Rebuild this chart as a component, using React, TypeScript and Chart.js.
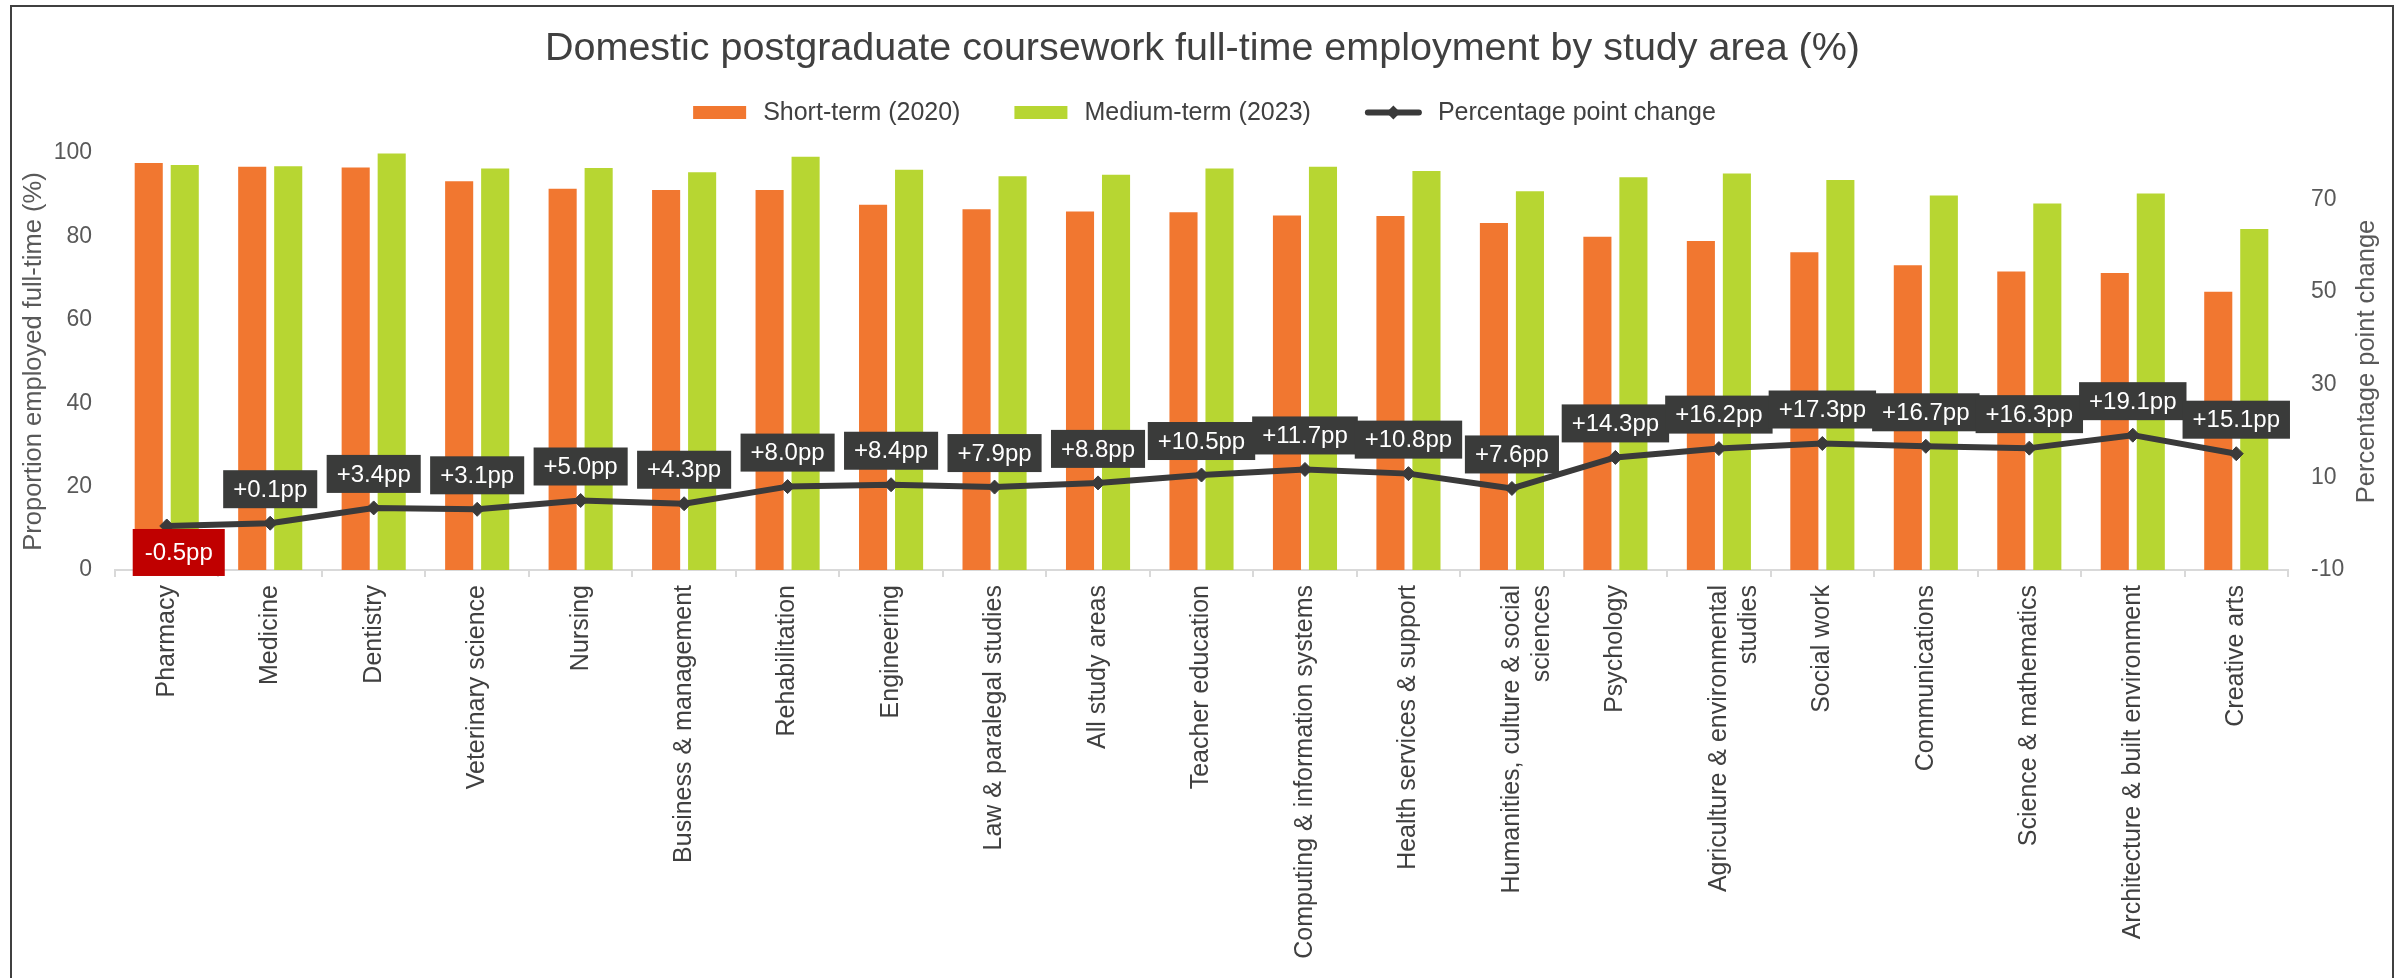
import React, { useEffect, useRef } from 'react';
import { Chart, registerables } from 'chart.js';

Chart.register(...registerables);

const FONT = "'Liberation Sans', Arial, sans-serif";

const TITLE = 'Domestic postgraduate coursework full-time employment by study area (%)';
const LEFT_TITLE = 'Proportion employed full-time (%)';
const RIGHT_TITLE = 'Percentage point change';

const categories: (string | string[])[] = [
  'Pharmacy',
  'Medicine',
  'Dentistry',
  'Veterinary science',
  'Nursing',
  'Business & management',
  'Rehabilitation',
  'Engineering',
  'Law & paralegal studies',
  'All study areas',
  'Teacher education',
  'Computing & information systems',
  'Health services & support',
  ['Humanities, culture & social', 'sciences'],
  'Psychology',
  ['Agriculture & environmental', 'studies'],
  'Social work',
  'Communications',
  'Science & mathematics',
  'Architecture & built environment',
  'Creative arts',
];

const shortTerm2020 = [97.6, 96.7, 96.5, 93.2, 91.4, 91.1, 91.1, 87.6, 86.5, 86.0, 85.8, 85.0, 84.9, 83.2, 79.9, 78.9, 76.2, 73.1, 71.6, 71.2, 66.7];
const mediumTerm2023 = [97.1, 96.8, 99.9, 96.3, 96.4, 95.4, 99.1, 96.0, 94.4, 94.8, 96.3, 96.7, 95.7, 90.8, 94.2, 95.1, 93.5, 89.8, 87.9, 90.3, 81.8];
const ppChange = [-0.5, 0.1, 3.4, 3.1, 5.0, 4.3, 8.0, 8.4, 7.9, 8.8, 10.5, 11.7, 10.8, 7.6, 14.3, 16.2, 17.3, 16.7, 16.3, 19.1, 15.1];

const leftTicks = [0, 20, 40, 60, 80, 100];
const rightTicks = [-10, 10, 30, 50, 70];

const ORANGE = '#f17730';
const GREEN = '#b7d632';
const DARK = '#3a3a3a';
const LABEL_BG = '#3a3b3a';
const NEG_BG = '#c00000';

const fmtPP = (v: number) => (v >= 0 ? '+' : '') + v.toFixed(1) + 'pp';

const extrasPlugin = {
  id: 'extras',
  afterDatasetsDraw(chart: any) {
    const ctx = chart.ctx;
    const meta = chart.getDatasetMeta(2);
    const data = chart.data.datasets[2].data as number[];
    ctx.save();
    ctx.font = `24px ${FONT}`;
    ctx.textAlign = 'center';
    ctx.textBaseline = 'middle';
    meta.data.forEach((pt: any, i: number) => {
      const v = data[i];
      const text = fmtPP(v);
      const tw = ctx.measureText(text).width;
      if (v < 0) {
        const w = tw + 24;
        const h = 47;
        const cx = pt.x + 12;
        const top = pt.y + 3;
        ctx.fillStyle = NEG_BG;
        ctx.fillRect(cx - w / 2, top, w, h);
        ctx.fillStyle = '#ffffff';
        ctx.fillText(text, cx, top + h / 2 + 1);
      } else {
        const w = tw + 20;
        const h = 38;
        const bottom = pt.y - 15;
        ctx.fillStyle = LABEL_BG;
        ctx.fillRect(pt.x - w / 2, bottom - h, w, h);
        ctx.fillStyle = '#ffffff';
        ctx.fillText(text, pt.x, bottom - h / 2 + 1);
      }
    });
    ctx.restore();
  },
  afterDraw(chart: any) {
    const ctx = chart.ctx;
    const area = chart.chartArea;
    // right axis title (reads bottom to top)
    const s = chart.scales.y1;
    ctx.save();
    ctx.translate(s.right - 26, (area.top + area.bottom) / 2);
    ctx.rotate(-Math.PI / 2);
    ctx.textAlign = 'center';
    ctx.textBaseline = 'middle';
    ctx.font = `25.5px ${FONT}`;
    ctx.fillStyle = '#595959';
    ctx.fillText(RIGHT_TITLE, 0, 0);
    ctx.restore();

    // legend
    ctx.save();
    ctx.font = `25px ${FONT}`;
    ctx.textBaseline = 'middle';
    ctx.textAlign = 'left';
    const ds = chart.data.datasets;
    const items = [
      { kind: 'box', color: ds[0].backgroundColor, text: ds[0].label, sw: 53, gap: 17 },
      { kind: 'box', color: ds[1].backgroundColor, text: ds[1].label, sw: 53, gap: 17 },
      { kind: 'line', color: ds[2].borderColor, text: ds[2].label, sw: 57, gap: 16 },
    ];
    const between = 54;
    let total = 0;
    items.forEach((it, i) => {
      total += it.sw + it.gap + ctx.measureText(it.text).width + (i < items.length - 1 ? between : 0);
    });
    let x = chart.width / 2 - total / 2 + 2;
    const y = 112.5;
    items.forEach((it) => {
      if (it.kind === 'box') {
        ctx.fillStyle = it.color;
        ctx.fillRect(x, y - 6.5, it.sw, 13);
      } else {
        ctx.strokeStyle = it.color;
        ctx.lineWidth = 6;
        ctx.lineCap = 'round';
        ctx.beginPath();
        ctx.moveTo(x + 3, y);
        ctx.lineTo(x + it.sw - 3, y);
        ctx.stroke();
        ctx.fillStyle = it.color;
        const cx = x + it.sw / 2;
        ctx.beginPath();
        ctx.moveTo(cx - 7, y);
        ctx.lineTo(cx, y - 7);
        ctx.lineTo(cx + 7, y);
        ctx.lineTo(cx, y + 7);
        ctx.closePath();
        ctx.fill();
      }
      x += it.sw + it.gap;
      ctx.fillStyle = '#404040';
      ctx.fillText(it.text, x, y + 1);
      x += ctx.measureText(it.text).width + between;
    });
    ctx.restore();
  },
};

export default function App() {
  const ref = useRef<HTMLCanvasElement | null>(null);

  useEffect(() => {
    document.body.style.margin = '0';
    const canvas = ref.current;
    if (!canvas) return;
    const chart = new Chart(canvas, {
      type: 'bar',
      data: {
        labels: categories,
        datasets: [
          {
            type: 'bar',
            label: 'Short-term (2020)',
            data: shortTerm2020,
            backgroundColor: ORANGE,
            borderWidth: 0,
            yAxisID: 'y',
            order: 1,
            categoryPercentage: 0.696,
            barPercentage: 0.78,
          },
          {
            type: 'bar',
            label: 'Medium-term (2023)',
            data: mediumTerm2023,
            backgroundColor: GREEN,
            borderWidth: 0,
            yAxisID: 'y',
            order: 1,
            categoryPercentage: 0.696,
            barPercentage: 0.78,
          },
          {
            type: 'line',
            label: 'Percentage point change',
            data: ppChange,
            borderColor: DARK,
            backgroundColor: DARK,
            borderWidth: 6,
            borderJoinStyle: 'round',
            pointStyle: 'rectRot',
            pointRadius: 7,
            pointBorderWidth: 1,
            pointBackgroundColor: DARK,
            pointBorderColor: DARK,
            tension: 0,
            yAxisID: 'y1',
            order: 0,
          },
        ],
      } as any,
      options: {
        responsive: false,
        animation: false,
        devicePixelRatio: 1,
        layout: { padding: { left: 12, right: 12, top: 10, bottom: 0 } },
        plugins: {
          legend: { display: false },
          tooltip: { enabled: false },
          title: {
            display: true,
            text: TITLE,
            color: '#404040',
            font: { family: FONT, size: 39.5, weight: 'normal' },
            padding: { top: 15.3, bottom: 80.3 },
          },
        },
        scales: {
          x: {
            type: 'category',
            offset: true,
            grid: {
              display: true,
              drawOnChartArea: false,
              drawTicks: true,
              tickLength: 7,
              color: '#d9d9d9',
              lineWidth: 2,
              offset: true,
            },
            border: { display: true, color: '#d9d9d9', width: 2 },
            ticks: {
              font: { family: FONT, size: 25 },
              color: '#404040',
              minRotation: 90,
              maxRotation: 90,
              autoSkip: false,
              padding: 8,
            },
            afterFit: (s: any) => {
              s.height = 408;
            },
          },
          y: {
            position: 'left',
            min: 0,
            max: 100,
            afterBuildTicks: (s: any) => {
              s.ticks = leftTicks.map((v) => ({ value: v }));
            },
            grid: { display: false, drawTicks: false },
            border: { display: false },
            ticks: { font: { family: FONT, size: 23 }, color: '#595959', padding: 23 },
            title: {
              display: true,
              text: LEFT_TITLE,
              color: '#595959',
              font: { family: FONT, size: 25.5 },
              padding: { top: 7, bottom: 0 },
            },
            afterFit: (s: any) => {
              s.width = 103;
            },
          },
          y1: {
            position: 'right',
            min: -10,
            max: 80,
            afterBuildTicks: (s: any) => {
              s.ticks = rightTicks.map((v) => ({ value: v }));
            },
            grid: { display: false, drawTicks: false },
            border: { display: false },
            ticks: { font: { family: FONT, size: 23 }, color: '#595959', padding: 23 },
            afterFit: (s: any) => {
              s.width = 105;
            },
          },
        },
      } as any,
      plugins: [extrasPlugin],
    });
    return () => chart.destroy();
  }, []);

  return (
    <div style={{ position: 'relative', width: 2405, height: 978, overflow: 'hidden', background: '#ffffff' }}>
      <canvas
        ref={ref}
        width={2405}
        height={978}
        style={{ position: 'absolute', left: 0, top: 0, width: 2405, height: 978 }}
      />
      <div
        style={{
          position: 'absolute',
          left: 10,
          top: 5,
          width: 2384,
          height: 1000,
          boxSizing: 'border-box',
          border: '2px solid #404040',
          borderBottom: 'none',
          pointerEvents: 'none',
        }}
      />
    </div>
  );
}
